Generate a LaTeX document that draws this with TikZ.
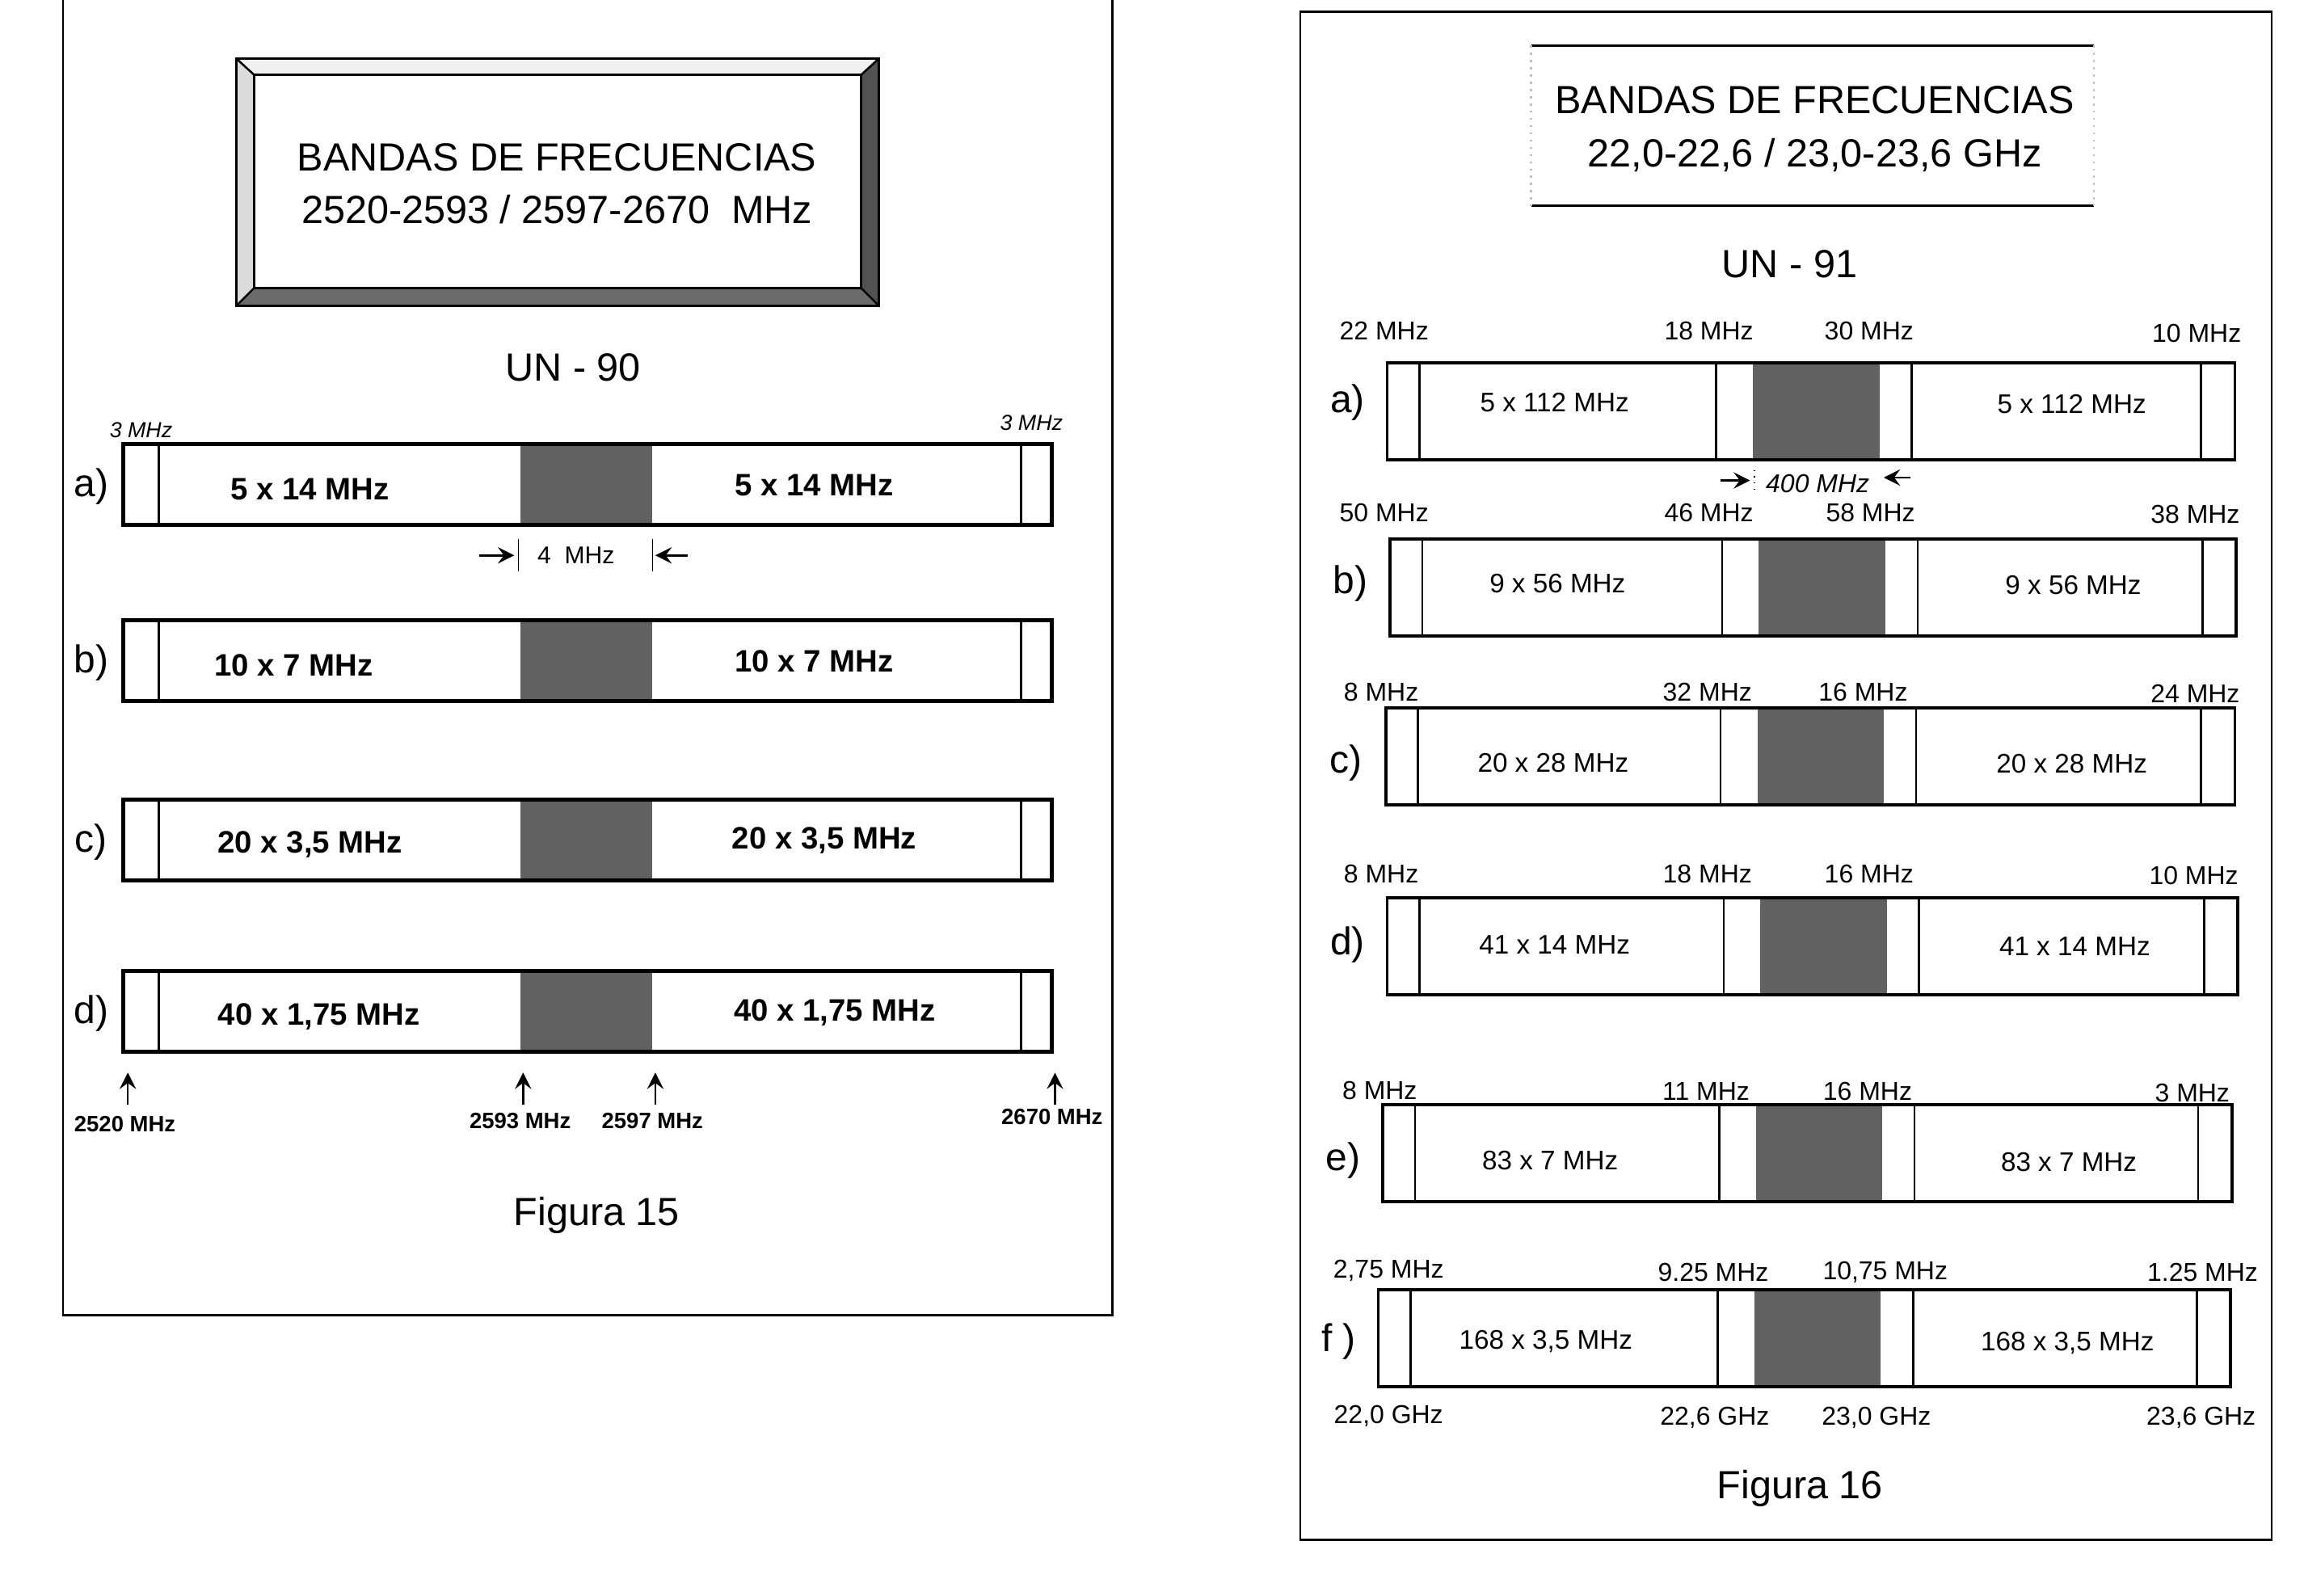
\documentclass[tikz,border=0pt]{standalone}
\usepackage{fontspec}
\setmainfont{Liberation Sans}
\begin{document}
\begin{tikzpicture}[>=stealth,x=0.01cm,y=-0.01cm,
  ttl/.style={font=\fontsize{7.6}{10.3}\selectfont,align=center,inner sep=0pt},
  big/.style={font=\fontsize{7.6}{9}\selectfont,inner sep=0pt},
  rowlab/.style={font=\fontsize{7.5}{9}\selectfont,inner sep=0pt},
  bandl/.style={font=\bfseries\fontsize{6}{7}\selectfont,inner sep=0pt},
  bandr/.style={font=\fontsize{5.2}{6}\selectfont,inner sep=0pt},
  freq/.style={font=\fontsize{5}{6}\selectfont,inner sep=0pt},
  mhz3/.style={font=\itshape\fontsize{4.2}{5}\selectfont,inner sep=0pt},
  foot15/.style={font=\bfseries\fontsize{4.3}{5}\selectfont,inner sep=0pt},
  gap/.style={fill=black!62},
]
\useasboundingbox (0,0) rectangle (1568,1086);

\draw[line width=0.4pt] (43,0) -- (43,895) -- (757,895) -- (757,0);
\fill[black!6] (161,40) -- (598,40) -- (586,51) -- (173,51) -- cycle;
\fill[black!14] (161,40) -- (173,51) -- (173,196) -- (161,208) -- cycle;
\fill[black!68] (598,40) -- (598,208) -- (586,196) -- (586,51) -- cycle;
\fill[black!58] (161,208) -- (598,208) -- (586,196) -- (173,196) -- cycle;
\draw[line width=0.5pt] (161,40) rectangle (598,208);
\draw[thin] (173,51) rectangle (586,196);
\draw[thin] (161,40) -- (173,51) (598,40) -- (586,51) (161,208) -- (173,196) (598,208) -- (586,196);
\node[ttl] (t15) at (379,125) {BANDAS DE FRECUENCIAS\\2520-2593 / 2597-2670~ MHz};
\node[big] (un90) at (390,250) {UN - 90};

\foreach \n/\y/\lab/\t/\xa/\xb in {la/302/a)/5 x 14 MHz/211/554, lb/422/b)/10 x 7 MHz/200/554, lc/544/c)/{20 x 3,5 MHz}/211/561, ld/661/d)/{40 x 1,75 MHz}/217/568}{
  \fill[gap] (354,\y) rectangle (444,\y+55);
  \draw[thin] (108,\y) -- (108,\y+55) (695,\y) -- (695,\y+55);
  \draw[line width=0.8pt] (84,\y) rectangle (716,\y+55);
  \node[rowlab] (\n0) at (62,\y+29) {\lab};
  \node[bandl] (\n1) at (\xa,\y+31) {\t};
  \node[bandl] (\n2) at (\xb,\y+28) {\t};
}
\node[mhz3] (m3a) at (96,293) {3 MHz};
\node[mhz3] (m3b) at (702,288) {3 MHz};

\coordinate (p1) at (326,378);
\coordinate (p2) at (350,378);
\coordinate (p3) at (468,378);
\coordinate (p4) at (446,378);
\draw[->,thin] (p1) -- (p2);
\draw[->,thin] (p3) -- (p4);
\draw[very thin] (353,367) -- (353,389) (444,367) -- (444,389);
\node[font=\fontsize{4.7}{5}\selectfont,inner sep=0pt] (g4) at (392,378) {4~ MHz};

\foreach \n/\x/\ty/\t in {k1/87/765/2520 MHz, k2/356/763/2593 MHz, k3/446/763/2597 MHz, k4/718/760/2670 MHz}{
  \coordinate (\n b) at (\x,752);
  \coordinate (\n t) at (\x,730);
  \draw[->,thin] (\n b) -- (\n t);
  \node[foot15] (\n) at (\x-2,\ty) {\t};
}
\node[big] (fig15) at (406,827) {Figura 15};

\draw[line width=0.4pt] (885,8) rectangle (1546,1048);
\draw[thin] (1042,31) -- (1425,31) (1042,140) -- (1425,140);
\draw[black!25,densely dotted] (1042,31) -- (1042,140) (1425,31) -- (1425,140);
\node[ttl] (t16) at (1235,88) {BANDAS DE FRECUENCIAS\\22,0-22,6 / 23,0-23,6 GHz};
\node[big] (un91) at (1218,180) {UN - 91};

\foreach \n/\l/\r/\y/\g/\ty/\lab/\t in {ra/944/1521/247/1193/274/a)/5 x 112 MHz, rb/946/1522/367/1197/397/b)/9 x 56 MHz, rc/943/1521/482/1196/519/c)/20 x 28 MHz, rd/944/1523/611/1198/643/d)/41 x 14 MHz, re/941/1519/752/1195/790/e)/83 x 7 MHz, rf/938/1518/878/1194/913/f )/{168 x 3,5 MHz}}{
  \fill[gap] (\g,\y) rectangle (\g+86,\y+66);
  \draw[thin] (\l+22,\y) -- (\l+22,\y+66) (\g-25,\y) -- (\g-25,\y+66)
    (\g+108,\y) -- (\g+108,\y+66) (\r-23,\y) -- (\r-23,\y+66);
  \draw[line width=0.6pt] (\l,\y) rectangle (\r,\y+66);
  \node[rowlab] (\n0) at (\l-27,\ty) {\lab};
  \node[bandr] (\n1) at (\l+114,\ty) {\t};
  \node[bandr] (\n2) at (\r-111,\ty+1) {\t};
}

\foreach \n/\x/\y/\t in {
  fa1/942/225/22 MHz, fa2/1163/225/18 MHz, fa3/1272/225/30 MHz, fa4/1495/227/10 MHz,
  fb1/942/349/50 MHz, fb2/1163/349/46 MHz, fb3/1273/349/58 MHz, fb4/1494/350/38 MHz,
  fc1/940/471/8 MHz, fc2/1162/471/32 MHz, fc3/1268/471/16 MHz, fc4/1494/472/24 MHz,
  fd1/940/595/8 MHz, fd2/1162/595/18 MHz, fd3/1272/595/16 MHz, fd4/1493/596/10 MHz,
  fe1/939/742/8 MHz, fe2/1161/743/11 MHz, fe3/1271/743/16 MHz, fe4/1492/744/3 MHz,
  ff1/945/865/{2,75 MHz}, ff2/1166/866/9.25 MHz, ff3/1283/866/{10,75 MHz}, ff4/1499/866/1.25 MHz,
  fg1/945/964/{22,0 GHz}, fg2/1167/965/{22,6 GHz}, fg3/1277/965/{23,0 GHz}, fg4/1498/965/{23,6 GHz}}{
  \node[freq] (\n) at (\x,\y) {\t};
}

\coordinate (q1) at (1171,327);
\coordinate (q2) at (1191,327);
\coordinate (q3) at (1300,325);
\coordinate (q4) at (1282,325);
\draw[->,thin] (q1) -- (q2);
\draw[->,thin] (q3) -- (q4);
\draw[very thin,densely dotted] (1194,320) -- (1194,334);
\node[font=\itshape\fontsize{5}{6}\selectfont,inner sep=0pt] (g400) at (1237,329) {400 MHz};
\node[big] (fig16) at (1225,1013) {Figura 16};
\end{tikzpicture}
\end{document}
